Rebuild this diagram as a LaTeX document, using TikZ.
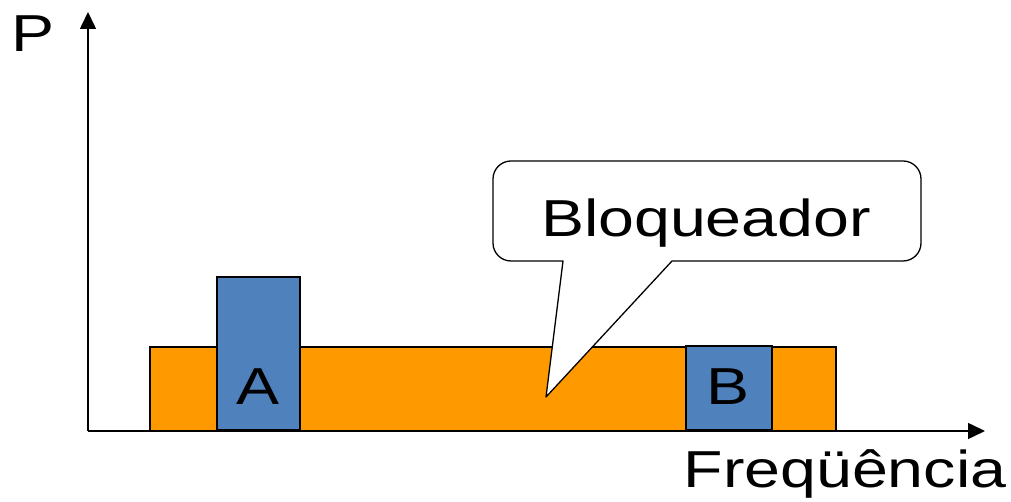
\documentclass[tikz,border=0pt]{standalone}
\usepackage{fontspec}
\setmainfont[FakeStretch=1.24]{Liberation Sans}
\usetikzlibrary{arrows.meta}
\definecolor{orng}{HTML}{FF9900}
\definecolor{blu}{HTML}{4F81BD}
\tikzset{
  axisline/.style={line width=1.5pt, -{Triangle[width=16pt,length=17pt]}},
  band/.style={draw=black, line width=1.5pt, fill=#1},
  lbl/.style={font=\fontsize{52}{62}\selectfont, inner sep=0pt, anchor=base},
  calloutshape/.style={draw=black, line width=1.3pt, fill=white, line join=round}
}
\begin{document}
\begin{tikzpicture}[x=1pt,y=1pt]
\useasboundingbox (0,0) rectangle (1011,502);
% axes
\coordinate (o) at (88,71);
\coordinate (ytop) at (88,490);
\coordinate (xend) at (985,71);
% bands
\draw[band=orng] (150,71) rectangle (836,155);
\node[band=blu, minimum width=83pt, minimum height=153pt, anchor=south west, inner sep=0pt] (sa) at (216,71) {};
\node[band=blu, minimum width=86pt, minimum height=84pt, anchor=south west, inner sep=0pt] (sb) at (685,71) {};
\draw[axisline] (o) -- (ytop);
\draw[axisline] (o) -- (xend);
% callout
\draw[calloutshape] (563,241) -- (511,241) arc[start angle=270, end angle=180, radius=18]
  -- (493,323) arc[start angle=180, end angle=90, radius=18]
  -- (903,341) arc[start angle=90, end angle=0, radius=18]
  -- (921,259) arc[start angle=0, end angle=-90, radius=18]
  -- (672,241) -- (546,105) -- cycle;
% labels
\node[lbl] (blk) at (706,265) {Bloqueador};
\node[lbl] (la) at (257.5,97) {A};
\node[lbl] (lb) at (728,97) {B};
\node[lbl] (lp) at (33.5,450) {P};
\node[lbl] (lf) at (845,14) {Freqüência};
\end{tikzpicture}
\end{document}
